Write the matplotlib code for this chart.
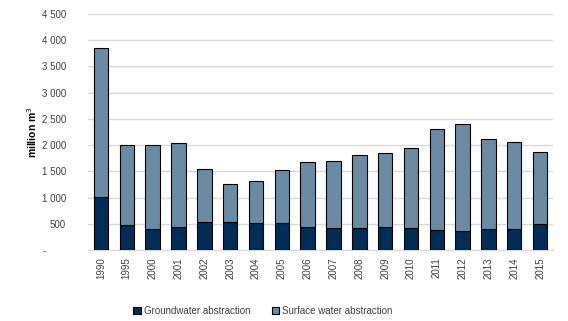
import numpy as np
import matplotlib.pyplot as plt
from matplotlib.ticker import FuncFormatter

years = ['1990', '1995', '2000', '2001', '2002', '2003', '2004', '2005', '2006',
         '2007', '2008', '2009', '2010', '2011', '2012', '2013', '2014', '2015']
groundwater = [1017, 470, 394, 432, 528, 528, 509, 509, 432,
               413, 413, 432, 413, 375, 356, 394, 394, 490]
total = [3846, 2000, 2000, 2034, 1538, 1252, 1309, 1519, 1672,
         1691, 1805, 1843, 1939, 2301, 2397, 2111, 2053, 1863]
surface = [t - g for t, g in zip(total, groundwater)]

plt.rcParams['font.family'] = ['Liberation Sans', 'DejaVu Sans']

fig = plt.figure(figsize=(5.68, 3.21), dpi=100)
ax = fig.add_axes([0.155, 0.221, 0.8186, 0.7354])

x = np.arange(len(years))
w = 0.56
ax.bar(x, groundwater, w, color='#002D56', edgecolor='black', linewidth=0.8,
       label='Groundwater abstraction', zorder=3)
ax.bar(x, surface, w, bottom=groundwater, color='#6B8AA3', edgecolor='black',
       linewidth=0.8, label='Surface water abstraction', zorder=3)

ax.set_xlim(-0.5, len(years) - 0.5)
ax.set_ylim(0, 4500)
ax.set_yticks(np.arange(0, 4501, 500))
ax.yaxis.set_major_formatter(FuncFormatter(
    lambda v, p: '-       ' if v == 0 else f'{int(v):,}'.replace(',', ' ')))
ax.set_xticks(x)
ax.set_xticklabels(years, rotation=90)
ax.tick_params(axis='both', length=0, labelsize=7, colors='#404040')
ax.tick_params(axis='y', pad=16)
ax.tick_params(axis='x', pad=5)
ax.grid(axis='y', color='#D9D9D9', linewidth=1, zorder=0)
for s in ['top', 'right', 'left']:
    ax.spines[s].set_visible(False)
ax.spines['bottom'].set_color('#D9D9D9')

ax.set_ylabel('million m$^3$', fontsize=7.5, fontweight='bold', labelpad=2)

ax.legend(loc='upper center', bbox_to_anchor=(0.376, -0.2), ncol=2, frameon=False,
          fontsize=7, handlelength=0.8, handleheight=0.8, columnspacing=2.2,
          handletextpad=0.3, labelcolor='#404040')

fig.savefig('out.png', dpi=100)
